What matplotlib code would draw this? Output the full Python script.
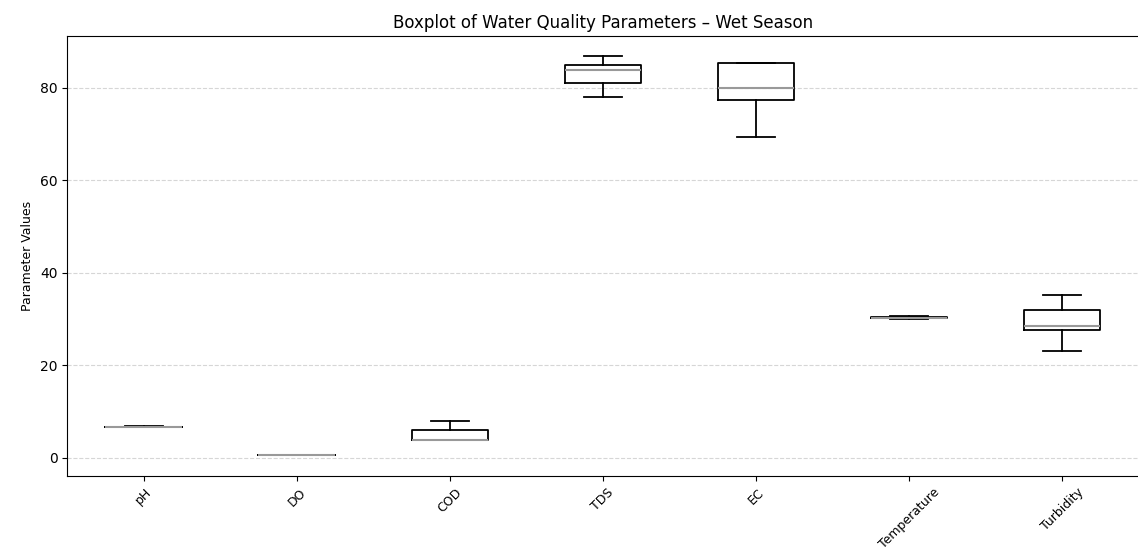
import numpy as np
import matplotlib
matplotlib.use('Agg')
import matplotlib.pyplot as plt

params = ['pH', 'DO', 'COD', 'TDS', 'EC', 'Temperature', 'Turbidity']
whis_low = [6.7, 0.6, 3.9, 78.1, 69.4, 30.1, 23.2]
q1 = [6.75, 0.62, 3.9, 81.1, 77.3, 30.15, 27.7]
median = [6.77, 0.65, 3.9, 83.9, 80.0, 30.3, 28.5]
q3 = [6.8, 0.7, 6.0, 84.9, 85.4, 30.5, 31.9]
whis_high = [6.85, 0.75, 8.1, 86.9, 85.4, 30.6, 35.3]

stats = []
for i in range(len(params)):
    stats.append({'label': params[i], 'whislo': whis_low[i], 'q1': q1[i],
                  'med': median[i], 'q3': q3[i], 'whishi': whis_high[i],
                  'fliers': []})

fig = plt.figure(figsize=(11.38, 5.5), dpi=100)
ax = fig.add_axes([0.059, 0.1345, 0.9415, 0.8])

ax.bxp(stats, widths=0.5, showfliers=False,
       boxprops=dict(color='black', linewidth=1.3),
       whiskerprops=dict(color='black', linewidth=1.3),
       capprops=dict(color='black', linewidth=1.3),
       medianprops=dict(color='#999999', linewidth=1.5))

ax.set_ylim(-3.9, 91.2)
ax.set_xlim(0.5, 7.5)
ax.set_yticks([0, 20, 40, 60, 80])
ax.grid(axis='y', linestyle='--', color='#cccccc', linewidth=0.8, alpha=0.8)
ax.set_axisbelow(True)
ax.set_title('Boxplot of Water Quality Parameters – Wet Season', fontsize=12)
ax.set_ylabel('Parameter Values', fontsize=9)
ax.tick_params(axis='x', labelsize=9)
ax.tick_params(axis='y', labelsize=10)
plt.setp(ax.get_xticklabels(), rotation=45)

fig.savefig('out.png', dpi=100)
